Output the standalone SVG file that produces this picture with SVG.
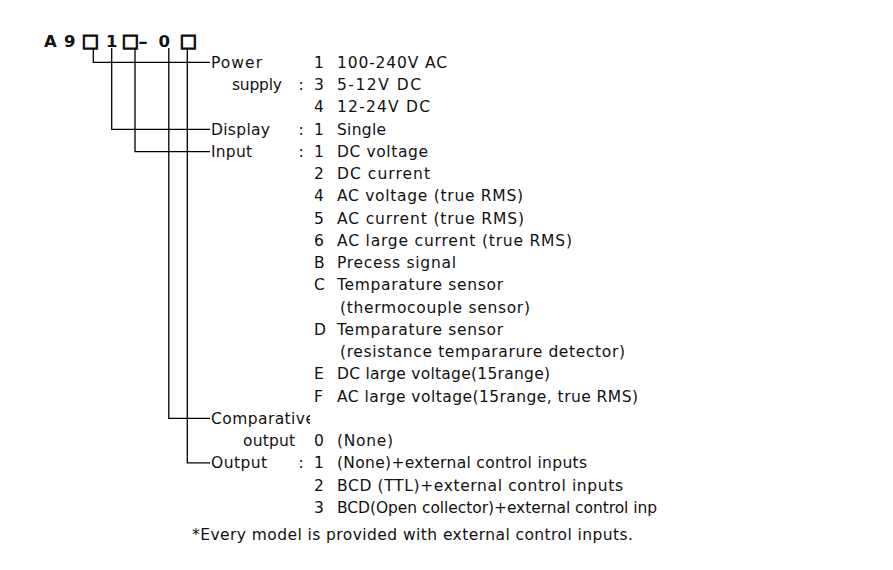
<svg xmlns="http://www.w3.org/2000/svg" width="893" height="570" viewBox="0 0 893 570">
<style>
  text { font-family: "DejaVu Sans", "Liberation Sans", sans-serif; font-size: 15.5px; fill: #111; }
  .hdr { font-weight: bold; font-size: 16.5px; }
  .box { font-size: 18px; stroke: #111; stroke-width: 1.2; }
  .conn { fill: none; stroke: #000; stroke-width: 1.3; }
</style>
<defs>
  <clipPath id="clipComp"><rect x="200" y="400" width="110" height="30"/></clipPath>
</defs>
<rect width="893" height="570" fill="#fff"/>

<g id="header">
  <text class="hdr" y="47.3"><tspan x="44">A</tspan><tspan x="64">9</tspan><tspan class="box" x="81.5">□</tspan><tspan x="106">1</tspan><tspan class="box" x="121.5">□</tspan><tspan x="158.5">0</tspan><tspan class="box" x="179.5">□</tspan></text>
  <text class="hdr" x="138" y="47.3" textLength="10" lengthAdjust="spacingAndGlyphs">-</text>
</g>

<g id="connectors">
  <polyline class="conn" points="93.3,48 93.3,62.3 210,62.3"/>
  <polyline class="conn" points="111.7,48 111.7,129.3 210,129.3"/>
  <polyline class="conn" points="135,48 135,151.7 210,151.7"/>
  <polyline class="conn" points="168.8,48 168.8,418.3 210,418.3"/>
  <polyline class="conn" points="187.3,48 187.3,462.8 210,462.8"/>
</g>

<g id="power">
  <text x="211" y="67.8" textLength="51" lengthAdjust="spacing">Power</text>
  <text x="232" y="90" textLength="50" lengthAdjust="spacing">supply</text>
  <text x="298.5" y="90">:</text>
  <text x="314" y="67.8">1</text><text x="337" y="67.8" textLength="110" lengthAdjust="spacing">100-240V AC</text>
  <text x="314" y="90">3</text><text x="337" y="90" textLength="84" lengthAdjust="spacing">5-12V DC</text>
  <text x="314" y="112.3">4</text><text x="337" y="112.3" textLength="93" lengthAdjust="spacing">12-24V DC</text>
</g>

<g id="display">
  <text x="211" y="134.5" textLength="59" lengthAdjust="spacing">Display</text>
  <text x="298.5" y="134.5">:</text>
  <text x="314" y="134.5">1</text><text x="337" y="134.5" textLength="49" lengthAdjust="spacing">Single</text>
</g>

<g id="input">
  <text x="211" y="156.8" textLength="41" lengthAdjust="spacing">Input</text>
  <text x="298.5" y="156.8">:</text>
  <text x="314" y="156.8">1</text><text x="337" y="156.8" textLength="91" lengthAdjust="spacing">DC voltage</text>
  <text x="314" y="179">2</text><text x="337" y="179" textLength="93" lengthAdjust="spacing">DC current</text>
  <text x="314" y="201.3">4</text><text x="337" y="201.3" textLength="186" lengthAdjust="spacing">AC voltage (true RMS)</text>
  <text x="314" y="223.5">5</text><text x="337" y="223.5" textLength="187" lengthAdjust="spacing">AC current (true RMS)</text>
  <text x="314" y="245.8">6</text><text x="337" y="245.8" textLength="235" lengthAdjust="spacing">AC large current (true RMS)</text>
  <text x="314" y="268">B</text><text x="337" y="268" textLength="119" lengthAdjust="spacing">Precess signal</text>
  <text x="314" y="290.3">C</text><text x="337" y="290.3" textLength="166" lengthAdjust="spacing">Temparature sensor</text>
  <text x="340" y="312.5" textLength="190" lengthAdjust="spacing">(thermocouple sensor)</text>
  <text x="314" y="334.8">D</text><text x="337" y="334.8" textLength="166" lengthAdjust="spacing">Temparature sensor</text>
  <text x="340" y="357" textLength="285" lengthAdjust="spacing">(resistance tempararure detector)</text>
  <text x="314" y="379.3">E</text><text x="337" y="379.3" textLength="213" lengthAdjust="spacing">DC large voltage(15range)</text>
  <text x="314" y="401.5">F</text><text x="337" y="401.5" textLength="301" lengthAdjust="spacing">AC large voltage(15range, true RMS)</text>
</g>

<g id="comparative">
  <text x="211" y="423.8" textLength="104" lengthAdjust="spacing" clip-path="url(#clipComp)">Comparative</text>
  <text x="243" y="446" textLength="52" lengthAdjust="spacing">output</text>
  <text x="314" y="446">0</text><text x="337" y="446" textLength="56" lengthAdjust="spacing">(None)</text>
</g>

<g id="output">
  <text x="211" y="468.3" textLength="56" lengthAdjust="spacing">Output</text>
  <text x="298.5" y="468.3">:</text>
  <text x="314" y="468.3">1</text><text x="337" y="468.3" textLength="250" lengthAdjust="spacing">(None)+external control inputs</text>
  <text x="314" y="490.5">2</text><text x="337" y="490.5" textLength="286" lengthAdjust="spacing">BCD (TTL)+external control inputs</text>
  <text x="314" y="512.8">3</text><text x="337" y="512.8" textLength="320" lengthAdjust="spacing">BCD(Open collector)+external control inp</text>
</g>

<g id="footnote">
  <text x="192" y="540.3" textLength="441" lengthAdjust="spacing">*Every model is provided with external control inputs.</text>
</g>
</svg>
